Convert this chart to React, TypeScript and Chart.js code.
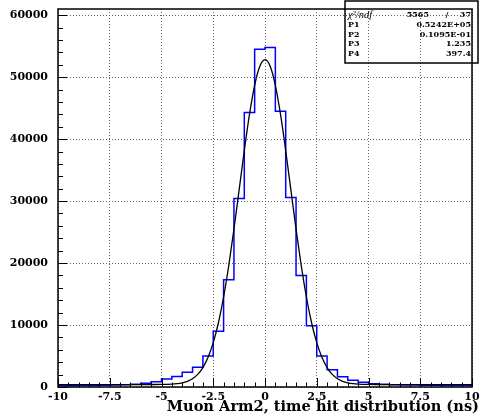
import React, { useEffect, useRef } from "react";
import { Chart, registerables } from "chart.js";

Chart.register(...registerables);

// ---- data ----
const X_MIN = -10;
const X_MAX = 10;
const BIN_WIDTH = 0.5;
const Y_MAX = 61000;

// histogram counts, 40 bins of 0.5 ns from -10 to 10
const binCounts = [
  200, 220, 240, 260, 290, 330, 380, 450, 600, 850,
  1300, 1700, 2400, 3200, 5000, 9000, 17300, 30400, 44300, 54500,
  54800, 44500, 30600, 18000, 9900, 5000, 2800, 1650, 1100, 760,
  530, 430, 380, 340, 310, 290, 270, 250, 240, 230,
];

// fitted curve
const fitX = [
  -10, -8, -6, -5.5, -5, -4.5, -4.25, -4, -3.75, -3.5, -3.25, -3, -2.75, -2.5,
  -2.25, -2, -1.75, -1.5, -1.25, -1, -0.75, -0.5, -0.25, 0, 0.25, 0.5, 0.75,
  1, 1.25, 1.5, 1.75, 2, 2.25, 2.5, 2.75, 3, 3.25, 3.5, 3.75, 4, 4.25, 4.5, 5,
  5.5, 6, 8, 10,
];
const fitY = [
  397, 397, 397, 400, 411, 466, 538, 673, 919, 1342, 2040, 3140, 4790, 7153,
  10367, 14523, 19606, 25467, 31804, 38167, 43990, 48693, 51754, 52817, 51754,
  48693, 43990, 38167, 31804, 25467, 19606, 14523, 10367, 7153, 4790, 3140,
  2040, 1342, 919, 673, 538, 466, 411, 400, 397, 397, 397,
];

const xTicks = [-10, -7.5, -5, -2.5, 0, 2.5, 5, 7.5, 10];
const yTicks = [0, 10000, 20000, 30000, 40000, 50000, 60000];
const X_MINOR_STEP = 0.5;
const Y_MINOR_STEP = 2000;

const chi2Text = "5565";
const ndfText = "37";
const statLabels = ["P1", "P2", "P3", "P4"];
const statValues = ["0.5242E+05", "0.1095E-01", "1.235", "397.4"];
const xTitle = "Muon Arm2, time hit distribution (ns)";

const TICK_FONT = { family: "'DejaVu Serif'", size: 11, weight: "bold" as const };

const decorPlugin = {
  id: "rootDecor",
  afterDatasetsDraw(chart: any) {
    const { ctx, chartArea: a, scales } = chart;
    const xs = scales.x;
    const ys = scales.y;
    ctx.save();
    ctx.strokeStyle = "#000";
    // inner ticks
    ctx.lineWidth = 1;
    ctx.beginPath();
    const nx = Math.round((X_MAX - X_MIN) / X_MINOR_STEP);
    for (let i = 0; i <= nx; i++) {
      const v = X_MIN + i * X_MINOR_STEP;
      const px = Math.round(xs.getPixelForValue(v)) + 0.5;
      const len = xTicks.includes(v) ? 9 : 4.5;
      ctx.moveTo(px, a.bottom);
      ctx.lineTo(px, a.bottom - len);
    }
    const ny = Math.floor(yTicks[yTicks.length - 1] / Y_MINOR_STEP);
    for (let i = 0; i <= ny; i++) {
      const v = i * Y_MINOR_STEP;
      const py = Math.round(ys.getPixelForValue(v)) + 0.5;
      const len = yTicks.includes(v) ? 9 : 5;
      ctx.moveTo(a.left, py);
      ctx.lineTo(a.left + len, py);
    }
    ctx.stroke();
    // frame
    ctx.lineWidth = 1.5;
    ctx.strokeRect(a.left, a.top, a.right - a.left, a.bottom - a.top);

    // stats box (transparent, like the reference)
    const bx = 345;
    const by = 1;
    const bw = 133;
    const bh = 62;
    ctx.lineWidth = 1.5;
    ctx.strokeRect(bx, by, bw, bh);
    const rightX = 471;
    ctx.fillStyle = "#000";
    ctx.textBaseline = "middle";
    ctx.font = "italic 10.5px 'Liberation Serif'";
    ctx.textAlign = "left";
    ctx.fillText("\u03C7\u00B2/ndf", bx + 3, 15);
    ctx.font = "bold 8px 'DejaVu Serif'";
    ctx.textAlign = "right";
    ctx.fillText(chi2Text, 429, 15);
    ctx.textAlign = "center";
    ctx.fillText("/", 447, 15);
    ctx.textAlign = "right";
    ctx.fillText(ndfText, rightX, 15);
    const rowY = [25, 34.5, 44, 53.5];
    statLabels.forEach((lab, i) => {
      ctx.textAlign = "left";
      ctx.fillText(lab, bx + 3, rowY[i]);
      ctx.textAlign = "right";
      ctx.fillText(statValues[i], rightX, rowY[i]);
    });

    // axis title
    ctx.font = "bold 14.6px 'DejaVu Serif'";
    ctx.textAlign = "right";
    ctx.textBaseline = "alphabetic";
    ctx.fillText(xTitle, 479, 411);
    ctx.restore();
  },
};

export default function App() {
  const ref = useRef<HTMLCanvasElement | null>(null);

  useEffect(() => {
    if (!ref.current) return;
    const histData = binCounts.map((c, i) => ({ x: X_MIN + i * BIN_WIDTH, y: c }));
    histData.push({ x: X_MAX, y: binCounts[binCounts.length - 1] });
    const fitData = fitX.map((x, i) => ({ x, y: fitY[i] }));

    const chart = new Chart(ref.current, {
      type: "line",
      data: {
        datasets: [
          {
            label: "fit",
            data: fitData,
            borderColor: "#000000",
            borderWidth: 1.3,
            pointRadius: 0,
            fill: false,
            cubicInterpolationMode: "monotone",
          },
          {
            label: "hist",
            data: histData,
            borderColor: "#0000ff",
            borderWidth: 1.5,
            pointRadius: 0,
            fill: false,
            stepped: "before",
          },
        ],
      },
      options: {
        responsive: false,
        animation: false,
        events: [],
        layout: { padding: { top: 9, right: 8, bottom: 0, left: 0 } },
        plugins: { legend: { display: false }, tooltip: { enabled: false }, title: { display: false } },
        scales: {
          x: {
            type: "linear",
            min: X_MIN,
            max: X_MAX,
            afterBuildTicks: (s: any) => {
              s.ticks = xTicks.map((v) => ({ value: v }));
            },
            afterFit: (s: any) => {
              s.height = 28;
              s.paddingLeft = 0;
              s.paddingRight = 0;
            },
            ticks: {
              autoSkip: false,
              maxRotation: 0,
              padding: 4,
              color: "#000",
              font: TICK_FONT,
              callback: (v: any) => String(v),
            },
            grid: { color: "#666", lineWidth: 1, drawTicks: false },
            border: { display: false, dash: [1, 2] },
          },
          y: {
            type: "linear",
            min: 0,
            max: Y_MAX,
            afterBuildTicks: (s: any) => {
              s.ticks = yTicks.map((v) => ({ value: v }));
            },
            afterFit: (s: any) => {
              s.width = 58;
              s.paddingTop = 0;
              s.paddingBottom = 0;
            },
            ticks: {
              autoSkip: false,
              padding: 10,
              color: "#000",
              font: TICK_FONT,
              callback: (v: any) => String(v),
            },
            grid: { color: "#666", lineWidth: 1, drawTicks: false },
            border: { display: false, dash: [1, 2] },
          },
        },
      },
      plugins: [decorPlugin],
    } as any);
    return () => chart.destroy();
  }, []);

  return (
    <div style={{ position: "absolute", left: 0, top: 0, width: 480, height: 415, background: "#fff" }}>
      <canvas ref={ref} width={480} height={415} style={{ display: "block", width: 480, height: 415 }} />
    </div>
  );
}
